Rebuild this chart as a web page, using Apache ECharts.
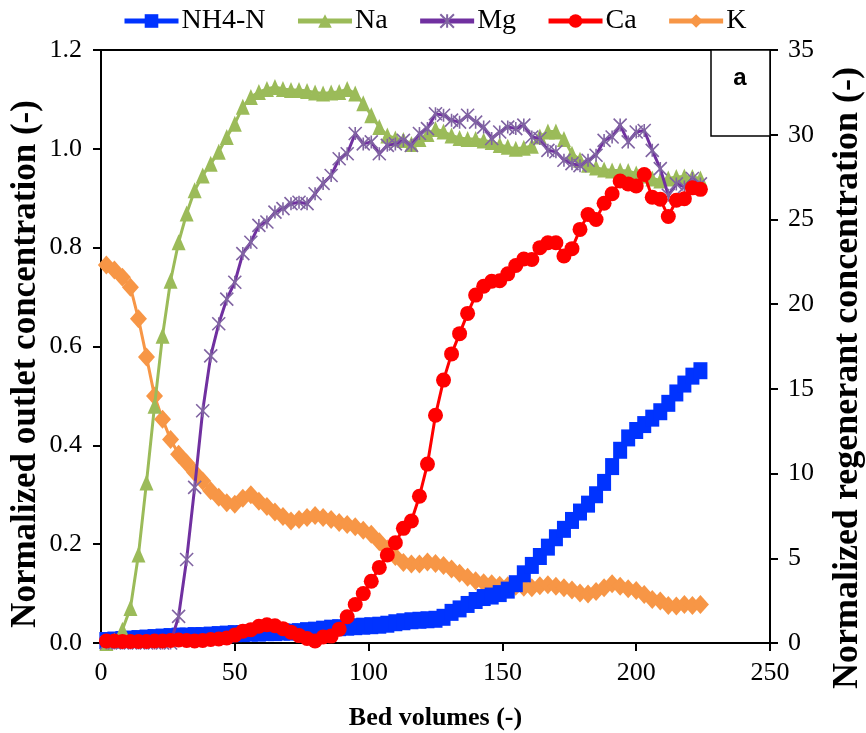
<!DOCTYPE html>
<html>
<head>
<meta charset="utf-8">
<script src="https://cdn.jsdelivr.net/npm/echarts/dist/echarts.min.js"></script>
<style>
html,body{margin:0;padding:0;background:#fff;}
#chart{width:866px;height:733px;}
</style>
</head>
<body>
<div id="chart"></div>
<script>
// Bed volumes (x values shared by all series)
var bv = [2,5,8,11,14,17,20,23,26,29,32,35,38,41,44,47,50,53,56,59,62,65,68,71,74,77,80,83,86,89,92,95,98,101,104,107,110,113,116,119,122,125,128,131,134,137,140,143,146,149,152,155,158,161,164,167,170,173,176,179,182,185,188,191,194,197,200,203,206,209,212,215,218,221,224];

var nh4 = [0.005,0.006,0.007,0.008,0.009,0.010,0.011,0.012,0.013,0.014,
 0.014,0.015,0.015,0.016,0.017,0.018,0.019,0.019,0.020,0.020,
 0.021,0.021,0.022,0.022,0.023,0.025,0.026,0.028,0.030,0.031,
 0.032,0.033,0.034,0.035,0.036,0.038,0.041,0.043,0.045,0.046,
 0.047,0.048,0.052,0.062,0.069,0.078,0.086,0.092,0.095,0.100,
 0.107,0.120,0.140,0.157,0.175,0.194,0.213,0.230,0.248,0.265,
 0.281,0.300,0.325,0.357,0.390,0.415,0.430,0.442,0.455,0.468,
 0.485,0.506,0.524,0.540,0.551];

var na = [0.000,0.005,0.027,0.071,0.179,0.325,0.480,0.622,0.733,0.811,
 0.869,0.916,0.946,0.970,0.994,1.024,1.051,1.085,1.105,1.115,
 1.121,1.125,1.121,1.119,1.119,1.117,1.114,1.112,1.114,1.115,
 1.121,1.112,1.092,1.068,1.044,1.027,1.021,1.018,1.010,1.020,
 1.030,1.040,1.035,1.027,1.022,1.020,1.020,1.017,1.014,1.008,
 1.004,1.000,1.002,1.006,1.025,1.035,1.035,1.020,0.990,0.978,
 0.968,0.962,0.958,0.956,0.956,0.955,0.950,0.946,0.940,0.936,
 0.940,0.943,0.944,0.943,0.940];

var mg = [0,0,0,0,0,0,0,0,0,0.054,
 0.169,0.315,0.470,0.581,0.646,0.696,0.730,0.788,0.811,0.845,
 0.852,0.872,0.879,0.889,0.892,0.889,0.909,0.930,0.946,0.980,
 0.990,1.031,1.010,1.014,0.990,1.007,1.010,1.017,1.007,1.031,
 1.041,1.071,1.068,1.058,1.054,1.068,1.054,1.044,1.021,1.034,
 1.044,1.041,1.048,1.024,1.021,0.997,0.994,0.977,0.970,0.966,
 0.977,0.987,1.017,1.024,1.048,1.014,1.034,1.037,0.997,0.960,
 0.906,0.929,0.923,0.940,0.929];

var ca = [0.004,0.004,0.003,0.003,0.003,0.003,0.004,0.004,0.005,0.006,
 0.005,0.004,0.005,0.007,0.008,0.010,0.016,0.024,0.027,0.034,
 0.037,0.035,0.029,0.022,0.015,0.009,0.004,0.012,0.014,0.028,
 0.053,0.078,0.100,0.125,0.153,0.178,0.203,0.232,0.247,0.297,
 0.362,0.461,0.532,0.585,0.626,0.667,0.704,0.722,0.732,0.733,
 0.747,0.764,0.777,0.776,0.800,0.810,0.810,0.783,0.798,0.837,
 0.867,0.857,0.890,0.909,0.935,0.929,0.925,0.948,0.902,0.898,
 0.863,0.896,0.899,0.921,0.918];

var k = [0.765,0.755,0.740,0.720,0.656,0.579,0.500,0.453,0.412,0.382,
 0.364,0.345,0.328,0.308,0.295,0.284,0.281,0.293,0.300,0.287,
 0.276,0.265,0.256,0.247,0.250,0.254,0.258,0.254,0.250,0.244,
 0.240,0.235,0.228,0.220,0.205,0.190,0.175,0.163,0.160,0.160,
 0.164,0.161,0.157,0.150,0.141,0.133,0.126,0.122,0.120,0.117,
 0.116,0.115,0.113,0.112,0.116,0.118,0.115,0.112,0.107,0.101,
 0.099,0.104,0.112,0.120,0.115,0.110,0.106,0.098,0.088,0.085,
 0.076,0.075,0.078,0.076,0.078];

var seriesNames = ['NH4-N','Na','Mg','Ca','K'];
var xTicks = {min:0, max:250, interval:50};
var leftTicks = {min:0, max:1.2, interval:0.2};
var rightTicks = {min:0, max:35, interval:5};
var xTitle = 'Bed volumes (-)';
var leftTitle = 'Normalized outlet concentration (-)';
var rightTitle = 'Normalized regenerant concentration (-)';

function pairs(arr){ return bv.map(function(x,i){ return [x, arr[i]]; }); }

var serif = 'Liberation Serif';
var chart = echarts.init(document.getElementById('chart'));

var axisLine = {show:true, lineStyle:{color:'#000', width:2}};
var axisTick = {show:true, inside:false, length:8, lineStyle:{color:'#000', width:2}};

var option = {
  animation:false,
  backgroundColor:'#fff',
  textStyle:{fontFamily:serif},
  grid:{left:101, right:96, top:50, bottom:90, show:true, borderColor:'#000', borderWidth:2,
        containLabel:false, outerBoundsMode:'none'},
  legend:{
    data:seriesNames, left:117, top:2, itemWidth:54, itemHeight:17, itemGap:30,
    lineStyle:{width:5},
    textStyle:{fontFamily:serif, fontSize:28, color:'#000', padding:[0,0,0,-2]}
  },
  xAxis:{
    type:'value', min:xTicks.min, max:xTicks.max, interval:xTicks.interval,
    name:xTitle, nameLocation:'middle', nameGap:62,
    nameTextStyle:{fontFamily:serif, fontSize:26, fontWeight:'bold', color:'#000'},
    axisLine:axisLine, axisTick:axisTick, splitLine:{show:false},
    axisLabel:{color:'#000', fontFamily:serif, fontSize:26, margin:17}
  },
  yAxis:[{
    type:'value', position:'left', min:leftTicks.min, max:leftTicks.max, interval:leftTicks.interval,
    axisLine:axisLine, axisTick:axisTick, splitLine:{show:false},
    axisLabel:{color:'#000', fontFamily:serif, fontSize:26, margin:19, formatter:function(v){return v.toFixed(1);}}
  },{
    type:'value', position:'right', min:rightTicks.min, max:rightTicks.max, interval:rightTicks.interval,
    axisLine:axisLine, axisTick:axisTick, splitLine:{show:false},
    axisLabel:{color:'#000', fontFamily:serif, fontSize:26, margin:18}
  }],
  series:[
    {name:'K', type:'line', data:pairs(k), yAxisIndex:0, z:2,
     symbol:'diamond', symbolSize:[17,19], showAllSymbol:true,
     lineStyle:{color:'#F79646', width:3}, itemStyle:{color:'#F79646'}},
    {name:'NH4-N', type:'line', data:pairs(nh4), yAxisIndex:0, z:3,
     symbol:'rect', symbolSize:[14,17], showAllSymbol:true,
     lineStyle:{color:'#0033FF', width:3}, itemStyle:{color:'#0033FF'}},
    {name:'Na', type:'line', data:pairs(na), yAxisIndex:0, z:4,
     symbol:'triangle', symbolSize:[14,16], showAllSymbol:true,
     lineStyle:{color:'#9BBB59', width:3}, itemStyle:{color:'#9BBB59'}},
    {name:'Mg', type:'line', data:pairs(mg), yAxisIndex:0, z:5,
     symbol:'path://M0,0L10,10M10,0L0,10M5,0L5,10', symbolSize:13, showAllSymbol:true,
     lineStyle:{color:'#7030A0', width:3},
     itemStyle:{color:'#8064A2', borderColor:'#8064A2', borderWidth:1.6}},
    {name:'Ca', type:'line', data:pairs(ca), yAxisIndex:0, z:6,
     symbol:'circle', symbolSize:15, showAllSymbol:true,
     lineStyle:{color:'#FF0000', width:3}, itemStyle:{color:'#FF0000'}}
  ],
  graphic:[
    {type:'text', x:26, y:364, rotation:Math.PI/2,
     style:{text:leftTitle, fontFamily:serif, fontWeight:'bold', fontSize:35, fill:'#000', align:'center', verticalAlign:'middle'}},
    {type:'text', x:848, y:378, rotation:Math.PI/2,
     style:{text:rightTitle, fontFamily:serif, fontWeight:'bold', fontSize:36, fill:'#000', align:'center', verticalAlign:'middle'}},
    {type:'rect', shape:{x:711, y:50, width:59, height:86}, style:{fill:'#fff', stroke:'#000', lineWidth:1.5}, z:100},
    {type:'text', x:740, y:78, style:{text:'a', fontFamily:'Liberation Sans', fontWeight:'bold', fontSize:24, fill:'#000', align:'center', verticalAlign:'middle'}, z:101}
  ]
};
chart.setOption(option);
</script>
</body>
</html>
